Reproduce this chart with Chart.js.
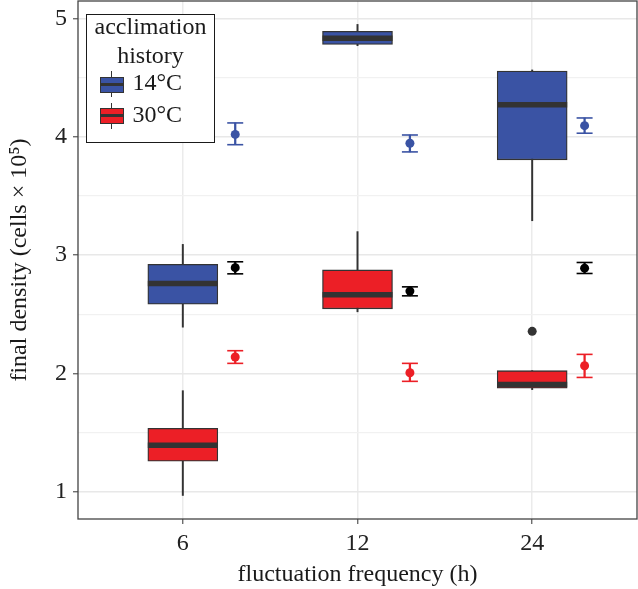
<!DOCTYPE html>
<html>
<head>
<meta charset="utf-8">
<script src="https://cdn.jsdelivr.net/npm/chart.js@4.4.1/dist/chart.umd.min.js"></script>
<style>
html,body{margin:0;padding:0;background:#fff;}
#wrap{position:relative;width:638px;height:589px;}
#legend{position:absolute;left:86px;top:14px;width:129px;height:129px;box-sizing:border-box;border:1.5px solid #1a1a1a;background:#fff;font-family:"Liberation Serif","Times New Roman",serif;color:#1a1a1a;font-size:24px;}
#legend .ttl{position:absolute;left:0;width:100%;text-align:center;line-height:29px;white-space:nowrap;}
#legend .lab{position:absolute;line-height:30px;white-space:nowrap;}
#legend .key{position:absolute;width:24px;height:16px;box-sizing:border-box;border:1px solid #333;}
#legend .key .med{position:absolute;left:0;right:0;top:5.5px;height:3px;background:#333;}
#legend .wh{position:absolute;width:1px;background:#333;}
</style>
</head>
<body>
<div id="wrap">
<canvas id="c" width="638" height="589"></canvas>
<div id="legend">
  <div class="ttl" style="top:-3px">acclimation</div>
  <div class="ttl" style="top:26px">history</div>
  <div class="wh" style="left:24px;top:56px;height:26px"></div>
  <div class="key" style="left:12.5px;top:61.5px;background:#3a53a4"><div class="med"></div></div>
  <div class="lab" style="left:45.5px;top:52px">14°C</div>
  <div class="wh" style="left:24px;top:87.5px;height:26px"></div>
  <div class="key" style="left:12.5px;top:92.5px;background:#ec1f26"><div class="med"></div></div>
  <div class="lab" style="left:45.5px;top:83.5px">30°C</div>
</div>
</div>
<script>
// ---- data ----
const categories = ['6', '12', '24'];
const yTicks = [1, 1.5, 2, 2.5, 3, 3.5, 4, 4.5, 5];

// boxplot statistics, acclimation 14°C
const min14 = [2.39, 4.77, 3.29];
const q1_14 = [2.585, 4.78, 3.805];
const med14 = [2.76, 4.832, 4.27];
const q3_14 = [2.922, 4.892, 4.555];
const max14 = [3.09, 4.95, 4.565];

// boxplot statistics, acclimation 30°C
const min30 = [0.967, 2.52, 1.862];
const q1_30 = [1.256, 2.545, 1.874];
const med30 = [1.392, 2.665, 1.905];
const q3_30 = [1.535, 2.874, 2.022];
const max30 = [1.853, 3.198, 2.022];

// outliers (30°C)
const outlierCat = [2];
const outlierVal = [2.355];

// model estimates with error bars
const est14 = [4.02, 3.945, 4.094];
const lo14 = [3.933, 3.872, 4.03];
const hi14 = [4.117, 4.015, 4.159];

const estAll = [2.893, 2.695, 2.889];
const loAll = [2.841, 2.655, 2.844];
const hiAll = [2.943, 2.731, 2.937];

const est30 = [2.138, 2.005, 2.064];
const lo30 = [2.084, 1.932, 1.965];
const hi30 = [2.191, 2.084, 2.16];

// ---- styling ----
const BLUE = '#3a53a4';
const RED = '#ec1f26';
const DARK = '#333333';
const EST_OFFSET = 0.3;
const FONT = '"Liberation Serif", "Times New Roman", serif';

Chart.defaults.font.family = FONT;

const idx = categories.map((c, i) => i);
const range = (lo, hi, off) => idx.map(i => ({x: i + off, y: [lo[i], hi[i]]}));
const pts = (vals, off) => idx.map(i => ({x: i + off, y: vals[i]}));
const caps = (lo, hi) => idx.flatMap(i => [{x: i + EST_OFFSET, y: lo[i]}, {x: i + EST_OFFSET, y: hi[i]}]);

function whisker(lo, hi) {
  return {type: 'bar', data: range(lo, hi, 0), backgroundColor: DARK, barThickness: 1.3,
          grouped: false, borderSkipped: false, borderWidth: 0, order: 30};
}
function box(lo, hi, color) {
  return {type: 'bar', data: range(lo, hi, 0), backgroundColor: color, borderColor: DARK,
          borderWidth: 1.3, barThickness: 70, grouped: false, borderSkipped: false, order: 29};
}
function median(vals) {
  return {type: 'scatter', data: pts(vals, 0), pointStyle: 'line', pointRadius: 35,
          borderColor: DARK, borderWidth: 5.5, order: 28};
}
function errBar(lo, hi, color) {
  return {type: 'bar', data: range(lo, hi, EST_OFFSET), backgroundColor: color, barThickness: 1.6,
          grouped: false, borderSkipped: false, borderWidth: 0, order: 10};
}
function errCaps(lo, hi, color) {
  return {type: 'scatter', data: caps(lo, hi), pointStyle: 'line', pointRadius: 8,
          borderColor: color, borderWidth: 1.6, order: 9};
}
function estPts(vals, color) {
  return {type: 'scatter', data: pts(vals, EST_OFFSET), pointStyle: 'circle', pointRadius: 4.5,
          backgroundColor: color, borderWidth: 0, order: 8};
}

const panelBorder = {
  id: 'panelBorder',
  afterDraw(chart) {
    const {ctx, chartArea: a} = chart;
    ctx.save();
    ctx.strokeStyle = '#444';
    ctx.lineWidth = 1.3;
    ctx.strokeRect(a.left, a.top, a.right - a.left, a.bottom - a.top);
    ctx.restore();
  }
};

function zeroPad(s) { s.paddingLeft = 0; s.paddingRight = 0; s.paddingTop = 0; s.paddingBottom = 0; }

new Chart(document.getElementById('c'), {
  type: 'bar',
  data: {
    datasets: [
      whisker(min14, max14), whisker(min30, max30),
      box(q1_14, q3_14, BLUE), box(q1_30, q3_30, RED),
      median(med14), median(med30),
      {type: 'scatter', data: outlierCat.map((c, k) => ({x: c, y: outlierVal[k]})),
       pointStyle: 'circle', pointRadius: 4.5, backgroundColor: DARK, borderWidth: 0, order: 27},
      errBar(lo14, hi14, BLUE), errBar(loAll, hiAll, '#000'), errBar(lo30, hi30, RED),
      errCaps(lo14, hi14, BLUE), errCaps(loAll, hiAll, '#000'), errCaps(lo30, hi30, RED),
      estPts(est14, BLUE), estPts(estAll, '#000'), estPts(est30, RED)
    ]
  },
  options: {
    responsive: false,
    animation: false,
    events: [],
    layout: {autoPadding: false, padding: {left: 0, top: 1, right: 1, bottom: 0}},
    plugins: {legend: {display: false}, tooltip: {enabled: false}},
    scales: {
      x: {
        type: 'linear', min: -0.6, max: 2.6, offset: false,
        afterBuildTicks: s => { s.ticks = idx.map(v => ({value: v})); },
        afterFit: s => { s.height = 70; zeroPad(s); },
        ticks: {callback: (v, i) => categories[i], font: {size: 24}, color: '#222', padding: 5, maxRotation: 0},
        grid: {offset: false, color: '#ebebeb', lineWidth: 1.5, tickColor: '#555', tickLength: 5, tickWidth: 1.2},
        border: {display: false},
        title: {display: true, text: 'fluctuation frequency (h)', font: {size: 24}, color: '#1a1a1a', padding: {top: 0, bottom: 0}}
      },
      y: {
        type: 'linear', min: 0.768, max: 5.148,
        afterBuildTicks: s => { s.ticks = yTicks.map(v => ({value: v})); },
        afterFit: s => { s.width = 78; zeroPad(s); },
        ticks: {callback: v => Number.isInteger(v) ? String(v) : '', font: {size: 24}, color: '#222', padding: 6},
        grid: {
          color: ctx => Number.isInteger(ctx.tick && ctx.tick.value) ? '#e8e8e8' : '#f1f1f1',
          lineWidth: ctx => Number.isInteger(ctx.tick && ctx.tick.value) ? 1.5 : 1.2,
          tickColor: ctx => Number.isInteger(ctx.tick && ctx.tick.value) ? '#555' : 'rgba(0,0,0,0)',
          tickLength: 5, tickWidth: 1.2
        },
        border: {display: false},
        title: {display: true, text: 'final density (cells × 10⁵)', font: {size: 24}, color: '#1a1a1a', padding: {top: 5, bottom: 0}}
      }
    }
  },
  plugins: [panelBorder]
});
</script>
</body>
</html>
